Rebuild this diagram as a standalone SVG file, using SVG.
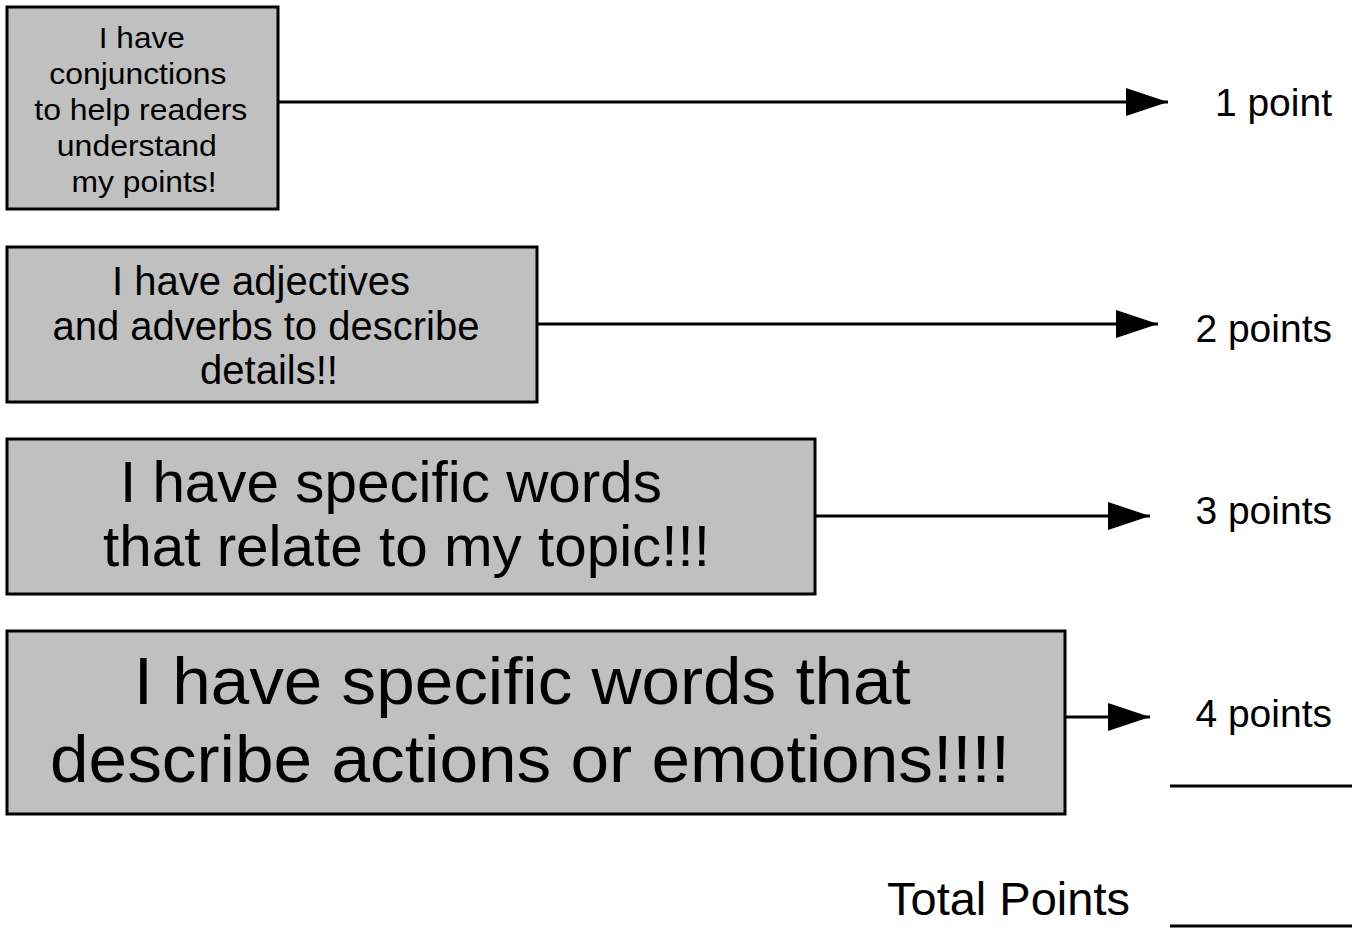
<svg xmlns="http://www.w3.org/2000/svg" width="1356" height="928" viewBox="0 0 1356 928">
<style>
.box{fill:#c0c0c0;stroke:#000;stroke-width:3}
.t{font-family:"Liberation Sans",Arial,sans-serif;fill:#000;text-anchor:middle}
.lbl{font-family:"Liberation Sans",Arial,sans-serif;fill:#000;font-size:39px;text-anchor:end}
.conn{stroke:#000;stroke-width:3;fill:none}
</style>
<defs>
<marker id="ah" markerUnits="userSpaceOnUse" markerWidth="42" markerHeight="28" refX="42" refY="14" orient="auto">
<path d="M0,0 L42,14 L0,28 Z" fill="#000"/>
</marker>
</defs>
<rect width="1356" height="928" fill="#fff"/>
<g id="node1">
<rect class="box" x="7" y="7" width="271" height="202"/>
<text class="t" font-size="30">
<tspan x="146" y="48" textLength="86" lengthAdjust="spacingAndGlyphs">I have</tspan>
<tspan x="142" y="84" textLength="177" lengthAdjust="spacingAndGlyphs">conjunctions</tspan>
<tspan x="145" y="120" textLength="213" lengthAdjust="spacingAndGlyphs">to help readers</tspan>
<tspan x="141" y="156" textLength="160" lengthAdjust="spacingAndGlyphs">understand</tspan>
<tspan x="144" y="192" textLength="145" lengthAdjust="spacingAndGlyphs">my points!</tspan>
</text>
</g>
<g id="node2">
<rect class="box" x="7" y="247" width="530" height="155"/>
<text class="t" font-size="40">
<tspan x="266.5" y="295">I have adjectives</tspan>
<tspan x="271.5" y="340">and adverbs to describe</tspan>
<tspan x="269" y="384">details!!</tspan>
</text>
</g>
<g id="node3">
<rect class="box" x="7" y="439" width="808" height="155"/>
<text class="t" font-size="58">
<tspan x="399" y="502" textLength="542" lengthAdjust="spacingAndGlyphs">I have specific words</tspan>
<tspan x="406.5" y="566" textLength="607" lengthAdjust="spacingAndGlyphs">that relate to my topic!!!</tspan>
</text>
</g>
<g id="node4">
<rect class="box" x="7" y="631" width="1058" height="183"/>
<text class="t" font-size="66">
<tspan x="531.5" y="704" textLength="777" lengthAdjust="spacingAndGlyphs">I have specific words that</tspan>
<tspan x="530" y="782" textLength="960" lengthAdjust="spacingAndGlyphs">describe actions or emotions!!!!</tspan>
</text>
</g>
<g id="labels">
<text class="lbl" x="1332" y="116">1 point</text>
<text class="lbl" x="1332" y="342">2 points</text>
<text class="lbl" x="1332" y="524">3 points</text>
<text class="lbl" x="1332" y="727">4 points</text>
<text x="1130" y="915" font-family="Liberation Sans, Arial, sans-serif" font-size="47" text-anchor="end">Total Points</text>
<line class="conn" x1="1170" y1="786" x2="1352" y2="786"/>
<line class="conn" x1="1170" y1="926" x2="1352" y2="926"/>
</g>
<g id="connectors">
<line class="conn" x1="279" y1="102" x2="1168" y2="102" marker-end="url(#ah)"/>
<line class="conn" x1="538" y1="324" x2="1158" y2="324" marker-end="url(#ah)"/>
<line class="conn" x1="816" y1="516" x2="1150" y2="516" marker-end="url(#ah)"/>
<line class="conn" x1="1066" y1="717" x2="1150" y2="717" marker-end="url(#ah)"/>
</g>
</svg>
